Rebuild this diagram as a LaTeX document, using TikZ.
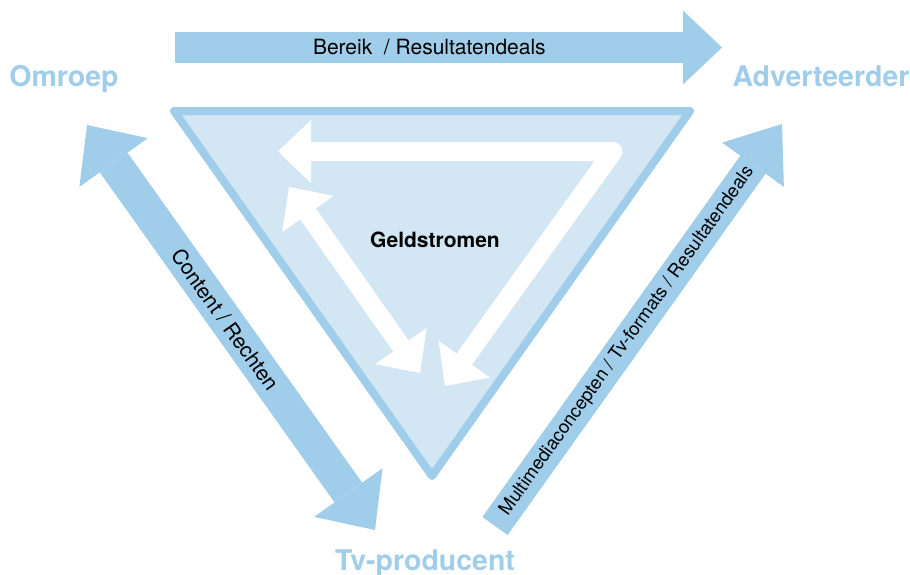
\documentclass[tikz,border=0pt]{standalone}
\usepackage{fontspec}
\setmainfont{TeX Gyre Heros}
\usepackage{tikz}
\usetikzlibrary{positioning}
\usetikzlibrary{arrows.meta}

\definecolor{flowblue}{RGB}{160,205,233}
\definecolor{paleblue}{RGB}{211,230,243}

\begin{document}
\begin{tikzpicture}[
    x=1pt,
    y=-1pt,
    line cap=butt
]
\tikzstyle{party}=[font=\fontsize{28.5}{32}\selectfont\bfseries, text=flowblue, inner sep=0pt, anchor=base]
\tikzstyle{flow}=[draw=flowblue, line width=31pt]
\tikzstyle{flowtext}=[font=\fontsize{21}{24}\selectfont, text=black, sloped, inner sep=0pt]
\tikzstyle{money}=[draw=white, line width=19pt, line join=round]

\useasboundingbox (0,0) rectangle (910,574);

% Parties
\node[party] (omroep) at (64,86) {Omroep};
\node[party] (adv) at (821,86) {Adverteerder};
\node[party] (tvp) at (425,570) {Tv-producent};

% Money triangle
\draw[draw=flowblue, fill=paleblue, line width=8pt, line join=round]
    (174,111) -- (690,111) -- (432,476) -- cycle;
\node[font=\fontsize{21}{24}\selectfont\bfseries] (geld) at (435,240) {Geldstromen};

\coordinate (g-low) at (445,386);
\coordinate (g-corner) at (613,151.5);
\coordinate (g-left) at (278,151.5);
\coordinate (g-a) at (289,187);
\coordinate (g-b) at (420,373);
\draw[money, {Triangle[width=63pt,length=33pt,line width=0pt]}-{Triangle[width=63pt,length=33pt,line width=0pt]}]
    (g-low) -- (g-corner) -- (g-left);
\draw[money, {Triangle[width=63pt,length=33pt,line width=0pt]}-{Triangle[width=63pt,length=33pt,line width=0pt]}]
    (g-a) -- (g-b);

% Flows between parties
\coordinate (top-s) at (175,47.5);
\coordinate (top-e) at (722,47.5);
\draw[flow, -{Triangle[width=74pt,length=39pt,line width=0pt]}] (top-s) -- (top-e)
    node[flowtext, pos=0.465] {Bereik\ \ / Resultatendeals};

\coordinate (cr-a) at (87,125);
\coordinate (cr-b) at (375,530);
\draw[flow, line width=34pt, {Triangle[width=84pt,length=46pt,line width=0pt]}-{Triangle[width=84pt,length=46pt,line width=0pt]}] (cr-a) -- (cr-b)
    node[flowtext, pos=0.48] {Content / Rechten};

\coordinate (mm-a) at (495,526);
\coordinate (mm-b) at (782,124);
\draw[flow, -{Triangle[width=76pt,length=50pt,line width=0pt]}] (mm-a) -- (mm-b)
    node[flowtext, font=\fontsize{18.5}{22}\selectfont, pos=0.46] {Multimediaconcepten / Tv-formats / Resultatendeals};

\end{tikzpicture}
\end{document}
